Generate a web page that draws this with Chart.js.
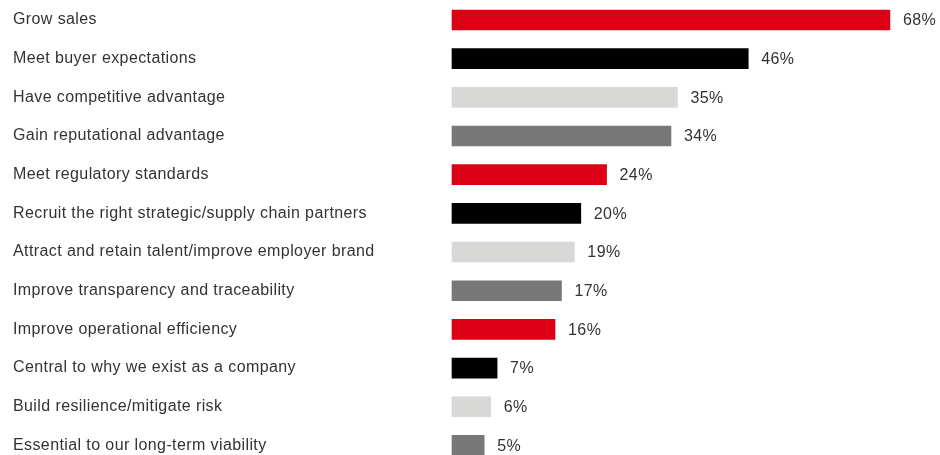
<!DOCTYPE html>
<html>
<head>
<meta charset="utf-8">
<script src="https://cdn.jsdelivr.net/npm/chart.js@4/dist/chart.umd.min.js"></script>
<style>
  html, body { margin: 0; padding: 0; background: #ffffff; overflow: hidden; }
  #wrap { position: relative; width: 940px; height: 455px; }
</style>
</head>
<body>
<div id="wrap"><canvas id="chart"></canvas></div>
<script>
// Reasons for pursuing sustainability, share of respondents (%)
const categories = [
  'Grow sales',
  'Meet buyer expectations',
  'Have competitive advantage',
  'Gain reputational advantage',
  'Meet regulatory standards',
  'Recruit the right strategic/supply chain partners',
  'Attract and retain talent/improve employer brand',
  'Improve transparency and traceability',
  'Improve operational efficiency',
  'Central to why we exist as a company',
  'Build resilience/mitigate risk',
  'Essential to our long-term viability'
];
const values = [68, 46, 35, 34, 24, 20, 19, 17, 16, 7, 6, 5];

// Bar fills cycle red, black, light grey, dark grey
const palette = ['#dc0015', '#000000', '#d8d8d6', '#787878'];
const barColors = categories.map((_, i) => palette[i % palette.length]);

const TEXT = '#333333';
const FONT = { family: '"Liberation Sans", Arial, sans-serif', size: 16 };
const TRACKING = '0.4px';

// Slightly open tracking for all text on the canvas
const tracking = {
  id: 'tracking',
  beforeDraw(chart) {
    chart.ctx.letterSpacing = TRACKING;
  }
};

// Writes "NN%" just past the end of each bar
const valueLabels = {
  id: 'valueLabels',
  afterDatasetsDraw(chart) {
    const ctx = chart.ctx;
    const meta = chart.getDatasetMeta(0);
    ctx.save();
    ctx.letterSpacing = TRACKING;
    ctx.font = `${FONT.size}px ${FONT.family}`;
    ctx.fillStyle = TEXT;
    ctx.textAlign = 'left';
    ctx.textBaseline = 'middle';
    meta.data.forEach((bar, i) => {
      ctx.fillText(values[i] + '%', bar.x + 13, bar.y + 1);
    });
    ctx.restore();
  }
};

new Chart(document.getElementById('chart'), {
  type: 'bar',
  data: {
    labels: categories,
    datasets: [{
      data: values,
      backgroundColor: barColors,
      borderWidth: 0,
      barThickness: 20,
      clip: false
    }]
  },
  options: {
    indexAxis: 'y',
    responsive: true,
    maintainAspectRatio: false,
    animation: false,
    layout: { padding: { left: 13, right: 5, top: 20, bottom: 8 } },
    plugins: {
      legend: { display: false },
      tooltip: { enabled: false }
    },
    scales: {
      x: {
        min: 0,
        max: 75,
        display: false,
        grid: { display: false }
      },
      y: {
        offset: false,
        grid: { display: false, drawTicks: false },
        border: { display: false },
        ticks: {
          crossAlign: 'far',
          padding: 0,
          color: TEXT,
          font: FONT
        },
        afterFit(scale) { scale.width = 439; }
      }
    }
  },
  plugins: [tracking, valueLabels]
});
</script>
</body>
</html>
